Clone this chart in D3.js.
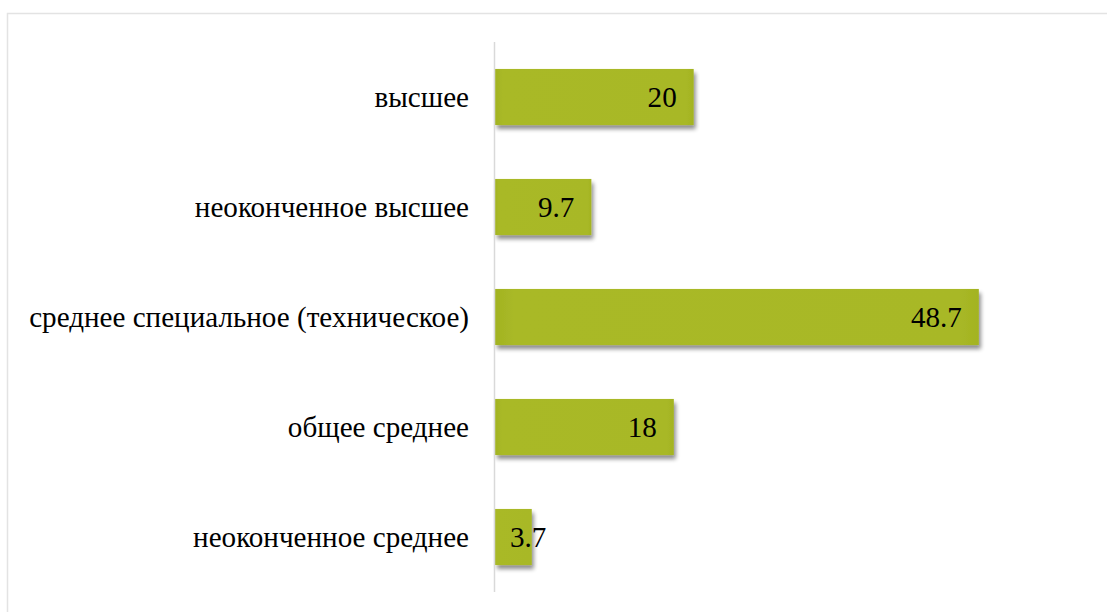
<!DOCTYPE html>
<html>
<head>
<meta charset="utf-8">
<script src="https://cdn.jsdelivr.net/npm/d3@7/dist/d3.min.js"></script>
<style>
  html, body { margin: 0; padding: 0; background: #fff; }
  svg { display: block; }
</style>
</head>
<body>
<svg id="chart" width="1107" height="612"></svg>
<script>
// Уровень образования, %
const categories = [
  "высшее",
  "неоконченное высшее",
  "среднее специальное (техническое)",
  "общее среднее",
  "неоконченное среднее"
];
const values = [20, 9.7, 48.7, 18, 3.7];
const valueLabels = ["20", "9.7", "48.7", "18", "3.7"];

const W = 1107, H = 612;
const FONT = '"Liberation Serif"';
const svg = d3.select("#chart");

// outer frame
svg.append("rect")
  .attr("x", 7.5).attr("y", 13.5)
  .attr("width", W + 10).attr("height", H + 10)
  .attr("fill", "#fff")
  .attr("stroke", "#e3e3e3").attr("stroke-width", 1.5);

const defs = svg.append("defs");
const shadow = defs.append("filter").attr("id", "barShadow")
  .attr("x", "-10%").attr("y", "-20%").attr("width", "130%").attr("height", "160%");
shadow.append("feGaussianBlur").attr("in", "SourceAlpha").attr("stdDeviation", 2.2).attr("result", "b");
shadow.append("feOffset").attr("in", "b").attr("dx", 2).attr("dy", 4).attr("result", "o");
shadow.append("feComponentTransfer").attr("in", "o").attr("result", "s")
  .append("feFuncA").attr("type", "linear").attr("slope", 0.45);
const merge = shadow.append("feMerge");
merge.append("feMergeNode").attr("in", "s");
merge.append("feMergeNode").attr("in", "SourceGraphic");

const grad = defs.append("linearGradient").attr("id", "barFill")
  .attr("x1", "0").attr("x2", "1").attr("y1", "0").attr("y2", "0");
grad.append("stop").attr("offset", "0").attr("stop-color", "#a2b322");
grad.append("stop").attr("offset", "0.04").attr("stop-color", "#a9b927");
grad.append("stop").attr("offset", "0.96").attr("stop-color", "#a8b826");
grad.append("stop").attr("offset", "1").attr("stop-color", "#a3b322");

const plot = { left: 495, top: 42, bottom: 592 };

const x = d3.scaleLinear().domain([0, 10]).range([plot.left, plot.left + 99.35]);
const y = d3.scaleBand().domain(categories).range([plot.top, plot.bottom]).paddingInner(0.49).paddingOuter(0.245);

// font size chosen so the longest category label spans ~440px
const probe = svg.append("text").style("font-family", FONT).style("font-size", "24px")
  .text(categories[2]);
const fs = 24 * 440 / probe.node().getComputedTextLength();
probe.remove();

// bars
svg.append("g").selectAll("rect")
  .data(categories)
  .join("rect")
  .attr("x", x(0))
  .attr("y", d => y(d))
  .attr("width", (d, i) => x(values[i]) - x(0))
  .attr("height", y.bandwidth())
  .attr("fill", "url(#barFill)")
  .attr("filter", "url(#barShadow)");

// axis line
svg.append("line")
  .attr("x1", x(0) - 0.5).attr("x2", x(0) - 0.5)
  .attr("y1", plot.top).attr("y2", plot.bottom)
  .attr("stroke", "#d9d9d9").attr("stroke-width", 1.5);

// category labels
svg.append("g").selectAll("text")
  .data(categories)
  .join("text")
  .attr("x", x(0) - 26)
  .attr("y", d => y(d) + y.bandwidth() / 2)
  .attr("dy", "0.35em")
  .attr("text-anchor", "end")
  .style("font-family", FONT)
  .style("font-size", fs + "px")
  .attr("fill", "#000")
  .text(d => d);

// value labels, inside end
const lbl = svg.append("g").selectAll("text")
  .data(categories)
  .join("text")
  .attr("y", d => y(d) + y.bandwidth() / 2)
  .attr("dy", "0.35em")
  .style("font-family", FONT)
  .style("font-size", fs + "px").attr("fill", "#000")
  .attr("text-anchor", "start")
  .text((d, i) => valueLabels[i]);
lbl.attr("x", function(d, i) {
  const w = this.getComputedTextLength();
  return Math.max(x(values[i]) - 17 - w, x(0) + 15);
});
</script>
</body>
</html>
